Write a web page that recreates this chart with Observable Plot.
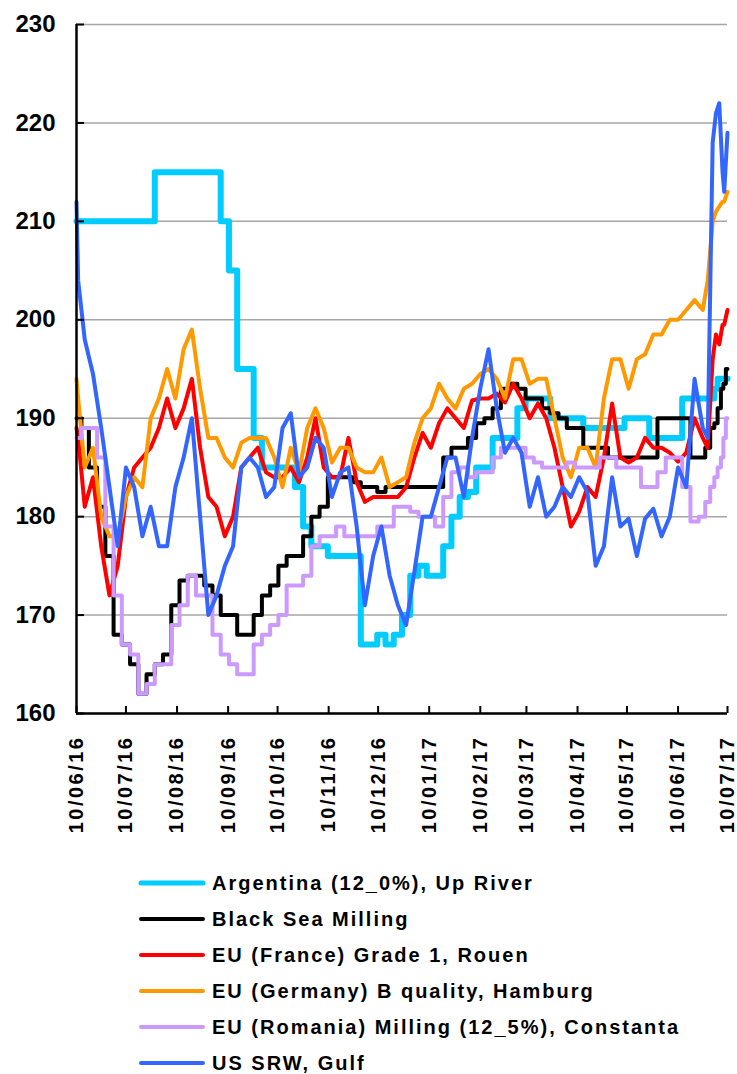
<!DOCTYPE html>
<html><head><meta charset="utf-8">
<script src="https://cdn.jsdelivr.net/npm/d3@7"></script>
<script src="https://cdn.jsdelivr.net/npm/@observablehq/plot@0.6"></script>
<style>
body{margin:0;background:#fff;font-family:"Liberation Sans",Arial,sans-serif;}
#chart svg{display:block;background:#fff;}
g[aria-label="x-axis tick label"] text{letter-spacing:2.5px;}
#legend{padding-top:5px;margin-left:138px;}
.row{height:36px;display:flex;align-items:center;}
.row svg{flex:none;}
.row span{margin-left:6px;font-weight:bold;font-size:20px;letter-spacing:2px;color:#000;white-space:nowrap;}
</style></head><body>
<div id="chart"></div><div id="legend"></div>
<script>
const dates = ["2016-06-10","2016-06-11","2016-06-15","2016-06-20","2016-06-25","2016-06-30","2016-07-05","2016-07-10","2016-07-15","2016-07-20","2016-07-25","2016-07-30","2016-08-04","2016-08-09","2016-08-14","2016-08-19","2016-08-24","2016-08-29","2016-09-03","2016-09-08","2016-09-13","2016-09-18","2016-09-23","2016-09-28","2016-10-03","2016-10-08","2016-10-13","2016-10-18","2016-10-23","2016-10-28","2016-11-02","2016-11-07","2016-11-12","2016-11-17","2016-11-22","2016-11-27","2016-12-02","2016-12-07","2016-12-12","2016-12-17","2016-12-22","2016-12-27","2017-01-01","2017-01-06","2017-01-11","2017-01-16","2017-01-21","2017-01-26","2017-01-31","2017-02-05","2017-02-10","2017-02-15","2017-02-20","2017-02-25","2017-03-02","2017-03-07","2017-03-12","2017-03-17","2017-03-22","2017-03-27","2017-04-01","2017-04-06","2017-04-11","2017-04-16","2017-04-21","2017-04-26","2017-05-01","2017-05-06","2017-05-11","2017-05-16","2017-05-21","2017-05-26","2017-05-31","2017-06-05","2017-06-10","2017-06-15","2017-06-20","2017-06-25","2017-06-28","2017-07-01","2017-07-03","2017-07-05","2017-07-07","2017-07-08","2017-07-10"];

const argentina = [210,210,210,210,210,210,210,210,210,210,210,215,215,215,215,215,215,215,215,210,205,195,195,188,185,185,185,185,183,179,177,177,176,176,176,176,167,167,168,167,168,170,174,175,174,174,177,180,182,182.5,185,185,188,188,188,191,192,192,192,190,190,190,190,189,189,189,189,189,190,190,190,188,188,188,188,192,192,192,192,192,193,194,194,194,194];

const blackSea = [190,190,189,185,181,176,168,167,165,162,164,165,166,171,173.5,174,174,173,172,170,170,168,168,170,172,173,175,176,176,178,180,181,184,184,184,183.5,183,183,182.5,183,183,183,183,183,183,183,186,187,187,188,189.5,190,191,193,193.5,193,192,192,191,190.5,190,189,189,187,187,187,186,186,186,186,186,186,190,190,190,190,186,186,187,189,189.5,191,193,193.5,195];

const france = [189,188,181,184,177,172,175,182,185,186,187,189,192,189,191,194,187,182,181,178,180,185,186,187,184.5,184,184,185,183.5,186,190,185,184,184,188,183.5,181.5,182,182,182,182,183,186,188.5,187,189.5,191,190,189,191.8,192,192,192.5,191.6,193.5,192,190,191.5,190,187,183,179,180.5,183,182,186,191.5,186,185.5,186,188,187,187,186.5,185.6,186.5,190,188,187,196,198.5,197.5,199.5,199.5,201];

const germany = [194,192,185,187,180,178,178,182,184,183,190,192,195,192,197,199,193,188,188,186,185,187.5,188,188,188,186,183,187,184.5,189,191,189,185.5,187,187,185,184.5,184.5,186,183,183.5,184,187.5,190,191,193.5,192,191,193,193.5,194.5,195,194,192,196,196,193.5,194,194,190,186,184,187,187,185,192,196,196,193,196,196.5,198.5,198.5,200,200,201,202,201,204,210,211,211.5,212,212,213];

const romania = [188,188,189,189,186,179,172,167,166,162,163,165,165,169,171,174,172,172,168,166,165,164,164,167,168,169,170,173,173,174,177,178,178,179,178,178,178,178,179,179,181,181,180.5,180,180,179,182,184.5,185,184,184.5,184.5,186,187,187,187,186,185.5,185,185,185,185.5,185,185,185,186,186,185,185,185,183,183,184.5,186,186,183,179.5,180,181.5,183,184,185,186,188,190];

const usSrw = [212,204,198,194.5,189,183,177,185,183,178,181,177,177,183,186,190,180,170,172,175,177,185,186,185,182,183,189,190.5,184,185,188,187,182,184.5,185,179,171,176,179,174,171,169,174.4,180,180,183,186,186,182,188,193,197,191,186.5,188,186.5,181,184,180,181,183,182,184,182.5,175,177,184,179,179.8,176,179.8,180.8,178,180,185,183,194,189,188,218,221,222,215,213,219];

const seriesNames = ["Argentina (12_0%), Up River","Black Sea Milling","EU (France) Grade 1, Rouen","EU (Germany) B quality, Hamburg","EU (Romania) Milling (12_5%), Constanta","US SRW, Gulf"];
const seriesValues = [argentina, blackSea, france, germany, romania, usSrw];

const yTicks = [160,170,180,190,200,210,220,230];
const xTickDates = ["2016-06-10","2016-07-10","2016-08-10","2016-09-10","2016-10-10","2016-11-10","2016-12-10","2017-01-10","2017-02-10","2017-03-10","2017-04-10","2017-05-10","2017-06-10","2017-07-10"];

// styling
const colors = ["#00CCFF","#000000","#FF0000","#FF9900","#CC99FF","#3366FF"];
const widths = [6,4,4,4,4,4];
const curves = ["step","step","linear","linear","step","linear"];
const legendWidths = [5,4,4,4,4,4];

const parse = d3.utcParse("%Y-%m-%d");
const W = 737, H = 860, mL = 76, mR = 10, mT = 24, mB = 147;
const plotW = W - mL - mR, plotH = H - mT - mB;
const xTicks = xTickDates.map(parse);

const lineMarks = seriesValues.map((vals, k) => {
  const rows = dates.map((d, i) => ({date: parse(d), value: vals[i]}));
  return Plot.line(rows, {x: "date", y: "value", stroke: colors[k], strokeWidth: widths[k], curve: curves[k], strokeLinejoin: "round", strokeLinecap: "round"});
});

const chart = Plot.plot({
  width: W, height: H,
  marginLeft: mL, marginRight: mR, marginTop: mT, marginBottom: mB,
  style: {fontFamily: '"Liberation Sans", Arial, sans-serif', background: "#fff", overflow: "visible"},
  x: {type: "utc", domain: [parse(dates[0]), parse(dates[dates.length - 1])]},
  y: {domain: [160, 230]},
  marks: [
    Plot.ruleY(yTicks, {stroke: "#a6a6a6", strokeWidth: 1.5}),
    ...lineMarks,
    Plot.ruleX([xTicks[0]], {stroke: "#000", strokeWidth: 2.5}),
    Plot.ruleY([160], {stroke: "#000", strokeWidth: 2.5}),
    Plot.tickY(yTicks, {y: d => d, stroke: "#000", strokeWidth: 2, insetRight: plotW - 8}),
    Plot.tickX(xTicks, {x: d => d, stroke: "#000", strokeWidth: 2, insetTop: plotH - 7}),
    Plot.axisY({ticks: yTicks, tickSize: 0, tickPadding: 21, fontSize: 24, fontWeight: "bold", fill: "#000", label: null}),
    Plot.axisX({ticks: xTicks, tickSize: 0, tickPadding: 22, tickRotate: -90, fontSize: 20, fontWeight: "bold", fill: "#000", tickFormat: d3.utcFormat("%d/%m/%y"), label: null})
  ]
});
document.getElementById("chart").appendChild(chart);

const legend = document.getElementById("legend");
seriesNames.forEach((name, k) => {
  const row = document.createElement("div");
  row.className = "row";
  row.innerHTML = `<svg width="68" height="12"><line x1="3" x2="65" y1="6" y2="6" stroke="${colors[k]}" stroke-width="${legendWidths[k]}" stroke-linecap="round"/></svg><span>${name}</span>`;
  legend.appendChild(row);
});
</script>
</body></html>
